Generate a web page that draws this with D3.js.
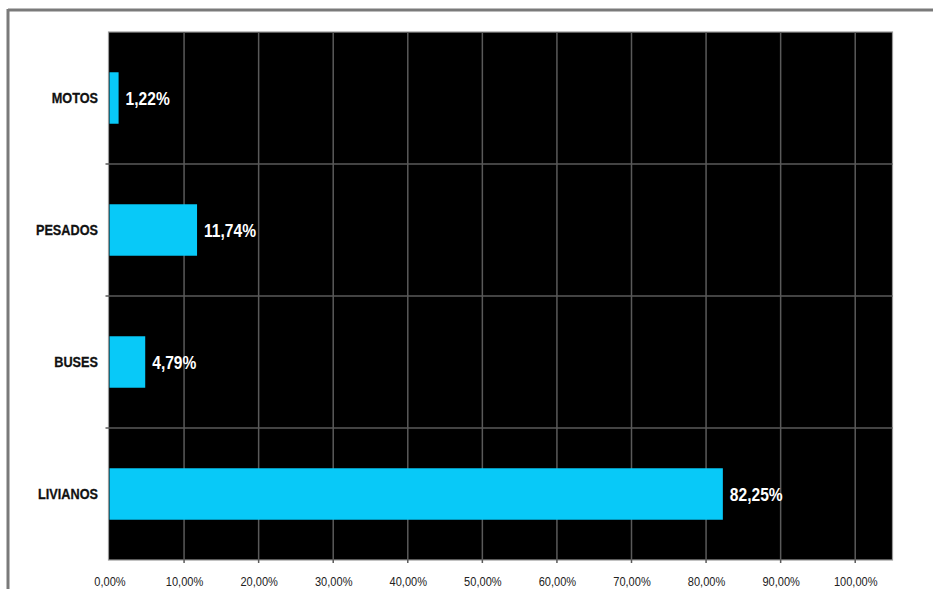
<!DOCTYPE html>
<html lang="es">
<meta charset="utf-8">
<title>Vehiculos</title>
<style>
    body { margin: 0; background: #fff; }
    svg  { display: block; }
</style>
<body>
<svg id="canvas"></svg>
<script src="https://cdn.jsdelivr.net/npm/d3@7/dist/d3.min.js"></script>
<script>

    /////////////////////// Data //////////////////////
    var categories  = ["MOTOS", "PESADOS", "BUSES", "LIVIANOS"];
    var values      = [1.22, 11.74, 4.79, 82.25];
    var value_text  = ["1,22%", "11,74%", "4,79%", "82,25%"];
    var ticks       = [0, 10, 20, 30, 40, 50, 60, 70, 80, 90, 100];
    var tick_text   = ["0,00%", "10,00%", "20,00%", "30,00%", "40,00%", "50,00%",
                       "60,00%", "70,00%", "80,00%", "90,00%", "100,00%"];
    ///////////////////////////////////////////////////

    ///////// Position and Dimension Variables ////////
    var width       = 933;
    var height      = 589;
    var plot_left   = 109.5;
    var plot_right  = 892.5;
    var plot_top    = 32;
    var plot_bottom = 560;
    var bar_frac    = 0.39;
    var squeeze     = 0.82;   // fake a narrow face
    ///////////////////////////////////////////////////

    ///////////////// Style Variables /////////////////
    var bar_color   = '#08c9f8';
    var grid_color  = '#5a5a5a';
    var frame_color = '#7a7a7a';
    var font        = "'Liberation Sans', Arial, sans-serif";
    ///////////////////////////////////////////////////

    var canvas = d3.select("#canvas")
        .attr('width',  width)
        .attr('height', height);

    // outer frame (top and left only visible)
    canvas.append("line")
        .attr('x1', 8).attr('x2', width)
        .attr('y1', 10).attr('y2', 10)
        .attr('stroke', frame_color).attr('stroke-width', 3);
    canvas.append("line")
        .attr('x1', 8).attr('x2', 8)
        .attr('y1', 9).attr('y2', height)
        .attr('stroke', frame_color).attr('stroke-width', 3);

    var x = d3.scaleLinear()
        .domain([0, 105])
        .range([plot_left, plot_right]);

    var y = d3.scaleBand()
        .domain(categories)
        .range([plot_top, plot_bottom]);

    // plot background
    canvas.append("rect")
        .attr('x', plot_left - 1)
        .attr('y', plot_top)
        .attr('width',  plot_right - plot_left + 1)
        .attr('height', plot_bottom - plot_top)
        .attr('fill', '#000')
        .attr('stroke', '#9a9a9a')
        .attr('stroke-width', 1.2);

    // vertical grid lines
    canvas.append("g").selectAll("line")
        .data(ticks.slice(1))
        .join("line")
        .attr('x1', d => x(d)).attr('x2', d => x(d))
        .attr('y1', plot_top).attr('y2', plot_bottom + 3)
        .attr('stroke', grid_color)
        .attr('stroke-width', 1.5);

    // horizontal grid lines at band boundaries
    canvas.append("g").selectAll("line")
        .data(categories.slice(1))
        .join("line")
        .attr('x1', plot_left - 4).attr('x2', plot_right)
        .attr('y1', d => y(d)).attr('y2', d => y(d))
        .attr('stroke', grid_color)
        .attr('stroke-width', 1.5);

    // bars
    var bar_h = y.bandwidth() * bar_frac;
    canvas.append("g").selectAll("rect")
        .data(values)
        .join("rect")
        .attr('x', x(0))
        .attr('y', (d, i) => y(categories[i]) + (y.bandwidth() - bar_h) / 2)
        .attr('width', d => x(d) - x(0))
        .attr('height', bar_h)
        .attr('fill', bar_color);

    // value labels
    canvas.append("g").selectAll("text")
        .data(values)
        .join("text")
        .attr('transform', (d, i) => 'translate(' + (x(d) + 7) + ',' +
              (y(categories[i]) + y.bandwidth() / 2) + ') scale(' + squeeze + ',1)')
        .attr('dy', '0.35em')
        .text((d, i) => value_text[i])
        .attr('fill', '#fff')
        .attr('font-family', font)
        .attr('font-weight', 'bold')
        .attr('font-size', 19);

    // category labels
    var y_axis = d3.axisLeft(y).tickSize(0).tickPadding(14);
    var gy = canvas.append("g")
        .attr('transform', 'translate(' + plot_left + ',0)')
        .call(y_axis);
    gy.select(".domain").remove();
    gy.selectAll("text")
        .attr('transform', 'scale(' + squeeze + ',1)')
        .attr('fill', '#111')
        .attr('stroke', '#111')
        .attr('stroke-width', 0.3)
        .attr('font-family', font)
        .attr('font-weight', 'bold')
        .attr('font-size', 15.5);

    // x axis tick labels
    var x_axis = d3.axisBottom(x)
        .tickValues(ticks)
        .tickFormat((d, i) => tick_text[i])
        .tickSize(0)
        .tickPadding(16);
    var gx = canvas.append("g")
        .attr('transform', 'translate(0,' + plot_bottom + ')')
        .call(x_axis);
    gx.select(".domain").remove();
    gx.selectAll("text")
        .attr('transform', 'scale(' + squeeze + ',1)')
        .attr('fill', '#222')
        .attr('font-family', font)
        .attr('font-size', 13.5);

</script>
</body>
</html>
